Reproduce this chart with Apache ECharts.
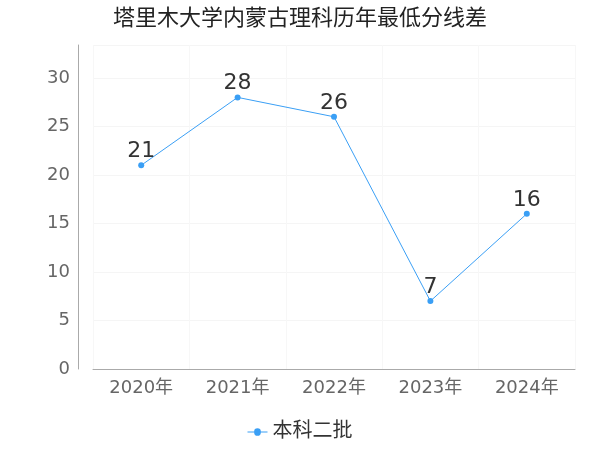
<!DOCTYPE html>
<html><head><meta charset="utf-8">
<script src="https://cdn.jsdelivr.net/npm/echarts@6/dist/echarts.min.js"></script>
<style>html,body{margin:0;padding:0}#c{width:600px;height:450px}</style>
</head><body><div id="c"></div>
<script>
const categories = ['2020年','2021年','2022年','2023年','2024年'];
const values = [21, 28, 26, 7, 16];
const seriesName = '本科二批';
const ff = "'DejaVu Sans','Noto Sans CJK SC',sans-serif";
const chart = echarts.init(document.getElementById('c'));
chart.setOption({
  title:{text:'塔里木大学内蒙古理科历年最低分线差',left:'center',top:3,textStyle:{fontSize:22,fontWeight:'normal',color:'#222',fontFamily:ff}},
  legend:{bottom:3,itemWidth:20,textStyle:{fontSize:20,color:'#333',fontFamily:ff},data:[{name:seriesName,icon:'path://M0,5L8,5A4,4,0,1,1,16,5L24,5L24,6L16,6A4,4,0,1,1,8,6L0,6Z'}]},
  grid:{left:93,right:25,top:45,bottom:81},
  xAxis:{type:'category',data:categories,axisTick:{show:false},axisLine:{lineStyle:{color:'#aaa'}},
    axisLabel:{fontSize:18,color:'#666',margin:10,fontFamily:ff},splitLine:{show:true,lineStyle:{color:'#f7f7f7'}}},
  yAxis:{type:'value',min:0,max:33.4,interval:5,offset:15,axisLine:{show:true,lineStyle:{color:'#aaa'}},
    axisLabel:{fontSize:18,color:'#666',showMaxLabel:false,fontFamily:ff},splitLine:{lineStyle:{color:'#f5f5f5'}}},
  series:[{name:seriesName,type:'line',data:values,symbol:'circle',symbolSize:6,
    itemStyle:{color:'#3a9ff5'},lineStyle:{width:1,color:'#3a9ff5'},
    label:{show:true,position:'top',fontSize:22,color:'#333',distance:0,fontFamily:ff}}]
});
</script></body></html>
